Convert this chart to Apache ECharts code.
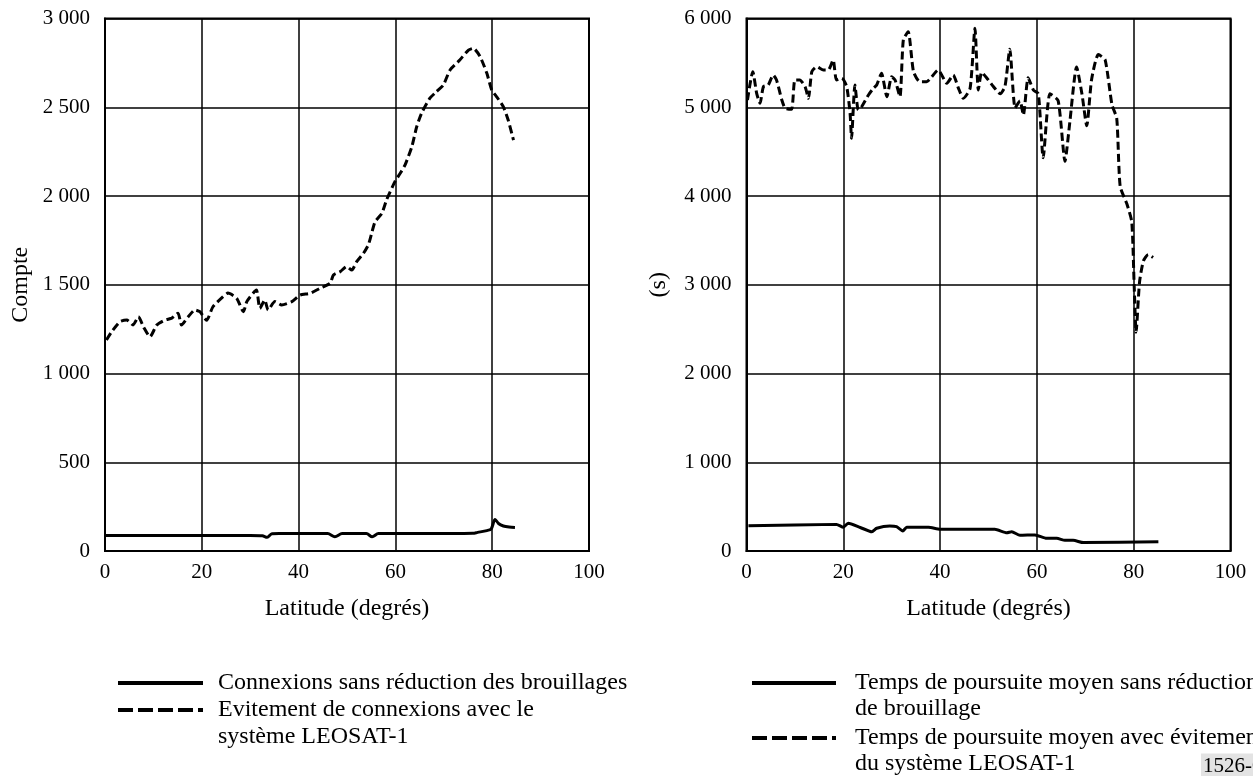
<!DOCTYPE html>
<html>
<head>
<meta charset="utf-8">
<script src="https://cdn.jsdelivr.net/npm/echarts@6/dist/echarts.min.js"></script>
<style>
html,body{margin:0;padding:0;background:#fff;}
#chart{width:1253px;height:776px;}
</style>
</head>
<body>
<div id="chart"></div>
<script>
// ---- Left chart: Compte ----
const leftSolidLat = [0, 10, 20, 30, 32.5, 33.5, 34.5, 36, 46, 47.5, 49, 54, 55.2, 56.5, 66, 76, 77, 78.9, 79.8, 80.6, 81.3, 82.3, 83.5, 84.7];
const leftSolidVal = [88, 88, 88, 88, 86, 77, 97, 98, 98, 80, 98, 98, 80, 98, 98, 100, 105, 115, 125, 178, 155, 141, 135, 133];

const leftDashLat = [0.3, 1.5, 3.1, 4.5, 5.8, 6.9, 8, 9.3, 10.7, 12.4, 13.8, 15.1, 15.8, 17.2, 18.6, 19.6, 21, 22.3, 24.4, 25.4, 27.2, 28.6, 29.3, 30.6, 31.3, 32, 33, 33.7, 35.1, 36.5, 38.6, 40.3, 42.4, 44.4, 46.5, 47.2, 48.6, 49.9, 51, 52, 53.4, 54.4, 55.1, 55.8, 57.2, 58.2, 59.9, 61, 62, 63.4, 64.4, 65.4, 67.1, 68.5, 69.9, 71.3, 73.3, 75.1, 76.1, 77.5, 78.9, 79.9, 80.9, 82.3, 83.3, 84.4];
const leftDashVal = [1189, 1240, 1292, 1301, 1273, 1320, 1260, 1207, 1273, 1301, 1312, 1340, 1273, 1320, 1358, 1348, 1300, 1376, 1433, 1453, 1424, 1348, 1405, 1452, 1470, 1367, 1414, 1358, 1405, 1386, 1405, 1442, 1452, 1480, 1508, 1555, 1574, 1602, 1583, 1630, 1677, 1724, 1790, 1855, 1902, 1980, 2081, 2128, 2175, 2278, 2390, 2466, 2550, 2588, 2625, 2710, 2766, 2822, 2832, 2785, 2691, 2597, 2560, 2503, 2428, 2315];

// ---- Right chart: (s) ----
const rightSolidLat = [0.4, 18.6, 20, 21, 23.5, 25.9, 26.9, 29.6, 31, 32.3, 33.1, 37.6, 40, 51.3, 53.8, 54.8, 56.5, 59.6, 62, 64.1, 65.8, 67.5, 69.6, 85.1];
const rightSolidVal = [285, 300, 267, 312, 265, 217, 256, 282, 274, 225, 267, 267, 244, 244, 206, 217, 177, 181, 143, 143, 120, 120, 95, 105];

const rightDashLat = [0.2, 1.3, 2.1, 2.8, 3.5, 4.5, 5.5, 6.2, 7.3, 8, 9.3, 10, 11, 12.1, 12.8, 13.5, 14.5, 15.9, 16.9, 17.9, 18.6, 19.7, 20.7, 21.4, 21.7, 22.4, 23.1, 23.8, 25.2, 26.2, 26.9, 27.9, 29, 30, 30.7, 31.7, 32.4, 33.4, 34.5, 35.8, 37.2, 39.6, 41.4, 42.7, 43.8, 44.8, 46.2, 47.2, 47.9, 48.6, 49.6, 51, 52.4, 53.4, 54.4, 55.5, 56.5, 57.2, 58.2, 59.3, 60.3, 61.3, 62.7, 64.4, 65.8, 66.8, 68.2, 69.3, 70.3, 71.3, 72.7, 74.1, 75.5, 76.5, 77.2, 78.6, 79.6, 80.1, 80.5, 81.2, 82, 83, 84];
const rightDashVal = [5082, 5401, 5157, 5044, 5232, 5251, 5363, 5307, 5082, 4988, 4977, 5307, 5307, 5232, 5101, 5401, 5457, 5420, 5420, 5532, 5307, 5326, 5232, 4932, 4650, 5251, 4969, 5006, 5138, 5213, 5251, 5382, 5119, 5344, 5307, 5119, 5758, 5851, 5401, 5288, 5288, 5420, 5270, 5363, 5213, 5101, 5213, 5889, 5194, 5393, 5333, 5233, 5152, 5233, 5654, 4992, 5072, 4912, 5333, 5192, 5152, 4431, 5152, 5072, 4391, 4832, 5453, 5152, 4792, 5313, 5593, 5533, 5032, 4872, 4110, 3909, 3709, 2987, 2466, 3027, 3268, 3340, 3308];

const xTicks = [0, 20, 40, 60, 80, 100];
const leftYTicks = [0, 500, 1000, 1500, 2000, 2500, 3000];
const rightYTicks = [0, 1000, 2000, 3000, 4000, 5000, 6000];

const xName = 'Latitude (degrés)';
const leftYName = 'Compte';
const rightYName = '(s)';
const leftLegend = ['Connexions sans réduction des brouillages', 'Evitement de connexions avec le', 'système LEOSAT-1'];
const rightLegend = ['Temps de poursuite moyen sans réduction', 'de brouillage', 'Temps de poursuite moyen avec évitement', 'du système LEOSAT-1'];
const figLabel = '1526-05';

const zip = (a, b) => a.map((x, i) => [x, b[i]]);
const fmt = v => String(v).replace(/\B(?=(\d{3})+(?!\d))/g, ' ');
const FONT = 'Liberation Serif';
const TICK_FS = 21;
const NAME_FS = 24;

const chart = echarts.init(document.getElementById('chart'), null, {renderer: 'canvas'});

function xAxisCfg(gi) {
  return {
    type: 'value', gridIndex: gi, min: xTicks[0], max: xTicks[xTicks.length - 1], interval: 20,
    name: xName, nameLocation: 'middle', nameGap: 46,
    nameTextStyle: {fontFamily: FONT, fontSize: NAME_FS, color: '#000'},
    axisLine: {show: true, lineStyle: {color: '#000', width: 2}},
    axisTick: {show: false},
    axisLabel: {fontFamily: FONT, fontSize: TICK_FS, color: '#000', margin: 11},
    splitLine: {show: true, lineStyle: {color: '#000', width: 1.5}}
  };
}
function yAxisCfg(gi, ticks, name, gap) {
  return {
    type: 'value', gridIndex: gi, min: ticks[0], max: ticks[ticks.length - 1], interval: ticks[1] - ticks[0],
    name: name, nameLocation: 'middle', nameGap: gap,
    nameTextStyle: {fontFamily: FONT, fontSize: NAME_FS, color: '#000'},
    axisLine: {show: true, lineStyle: {color: '#000', width: 2}},
    axisTick: {show: false},
    axisLabel: {fontFamily: FONT, fontSize: TICK_FS, color: '#000', margin: 15, formatter: fmt},
    splitLine: {show: true, lineStyle: {color: '#000', width: 1.5}}
  };
}

const solidStyle = {color: '#000', width: 3, type: 'solid'};
const dashStyle = {color: '#000', width: 3, type: [8, 4]};

function legendItems(x0, x1, tx, rows, linesAt) {
  const els = [];
  linesAt.forEach(l => {
    els.push({type: 'line', shape: {x1: x0, y1: l.y, x2: x1, y2: l.y},
      style: {stroke: '#000', lineWidth: 4, lineDash: l.dash ? [15, 5] : null}});
  });
  rows.forEach(r => {
    els.push({type: 'text', x: tx, y: r.y,
      style: {text: r.t, fontFamily: FONT, fontSize: NAME_FS, fill: '#000', verticalAlign: 'middle', align: 'left'}});
  });
  return els;
}

const graphics = [].concat(
  legendItems(118, 203, 218,
    [{t: leftLegend[0], y: 683}, {t: leftLegend[1], y: 710}, {t: leftLegend[2], y: 737}],
    [{y: 683, dash: false}, {y: 710, dash: true}]),
  legendItems(752, 836, 855,
    [{t: rightLegend[0], y: 683}, {t: rightLegend[1], y: 709}, {t: rightLegend[2], y: 738}, {t: rightLegend[3], y: 764}],
    [{y: 683, dash: false}, {y: 738, dash: true}]),
  [{type: 'text', x: 1201, y: 766,
    style: {text: figLabel, fontFamily: FONT, fontSize: TICK_FS, fill: '#000', verticalAlign: 'middle',
      backgroundColor: '#e3e3e3', padding: [2, 2, 2, 2]}}]
);

chart.setOption({
  animation: false,
  backgroundColor: '#fff',
  grid: [
    {left: 105, top: 18.5, width: 484, height: 532.5, show: true, borderColor: '#000', borderWidth: 2, containLabel: false},
    {left: 746.5, top: 18.5, width: 484, height: 532.5, show: true, borderColor: '#000', borderWidth: 2, containLabel: false}
  ],
  xAxis: [xAxisCfg(0), xAxisCfg(1)],
  yAxis: [yAxisCfg(0, leftYTicks, leftYName, 72), yAxisCfg(1, rightYTicks, rightYName, 76)],
  series: [
    {type: 'line', xAxisIndex: 0, yAxisIndex: 0, data: zip(leftSolidLat, leftSolidVal), showSymbol: false, smooth: 0.3, lineStyle: solidStyle},
    {type: 'line', xAxisIndex: 0, yAxisIndex: 0, data: zip(leftDashLat, leftDashVal), showSymbol: false, smooth: 0.2, lineStyle: dashStyle},
    {type: 'line', xAxisIndex: 1, yAxisIndex: 1, data: zip(rightSolidLat, rightSolidVal), showSymbol: false, smooth: 0.2, lineStyle: solidStyle},
    {type: 'line', xAxisIndex: 1, yAxisIndex: 1, data: zip(rightDashLat, rightDashVal), showSymbol: false, smooth: 0.2, lineStyle: dashStyle}
  ],
  graphic: graphics
});
</script>
</body>
</html>
